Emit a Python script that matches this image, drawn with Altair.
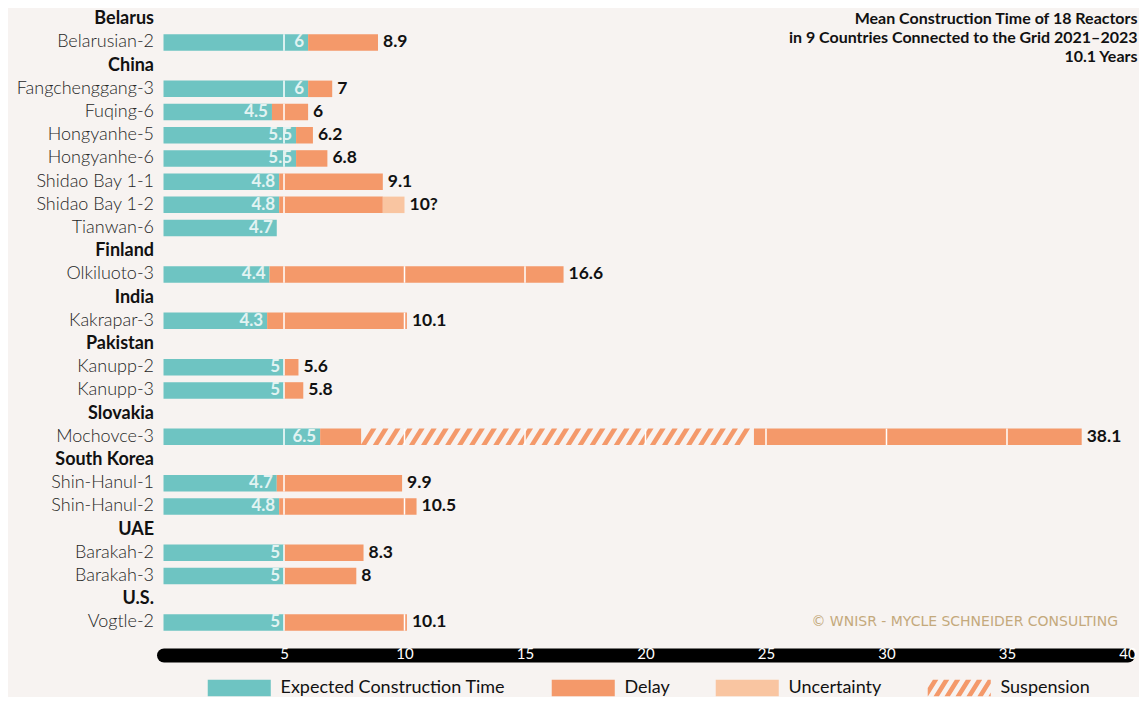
import altair as alt
import pandas as pd
import numpy as np

FONT = "Lato"
BG = "#f7f3f1"
TEAL = "#6ec4c2"
ORANGE = "#f4996a"
PEACH = "#f9c5a1"

# ---------------- data ----------------
countries = ["Belarus", "China", "Finland", "India", "Pakistan", "Slovakia",
             "South Korea", "UAE", "U.S."]
reactors = ["Belarusian-2", "Fangchenggang-3", "Fuqing-6", "Hongyanhe-5", "Hongyanhe-6",
            "Shidao Bay 1-1", "Shidao Bay 1-2", "Tianwan-6", "Olkiluoto-3", "Kakrapar-3",
            "Kanupp-2", "Kanupp-3", "Mochovce-3", "Shin-Hanul-1", "Shin-Hanul-2",
            "Barakah-2", "Barakah-3", "Vogtle-2"]
reactor_country = ["Belarus", "China", "China", "China", "China", "China", "China", "China",
                   "Finland", "India", "Pakistan", "Pakistan", "Slovakia", "South Korea",
                   "South Korea", "UAE", "UAE", "U.S."]
expected = [6, 6, 4.5, 5.5, 5.5, 4.8, 4.8, 4.7, 4.4, 4.3, 5, 5, 6.5, 4.7, 4.8, 5, 5, 5]
actual = [8.9, 7, 6, 6.2, 6.8, 9.1, 9.1, 4.7, 16.6, 10.1, 5.6, 5.8, 38.1, 9.9, 10.5, 8.3, 8, 10.1]
uncertain_to = [None, None, None, None, None, None, 10, None, None, None, None, None,
                None, None, None, None, None, None]
end_labels = ["8.9", "7", "6", "6.2", "6.8", "9.1", "10?", "", "16.6", "10.1", "5.6", "5.8",
              "38.1", "9.9", "10.5", "8.3", "8", "10.1"]
susp_reactor = "Mochovce-3"
susp_start, susp_end = 8.2, 24.5

parts = ["Expected Construction Time", "Delay", "Uncertainty", "Suspension"]
part_colors = [TEAL, ORANGE, PEACH, ORANGE]
x_ticks = [5, 10, 15, 20, 25, 30, 35, 40]

title_lines = ["Mean Construction Time of 18 Reactors",
               "in 9 Countries Connected to the Grid 2021\u20132023",
               "10.1 Years"]
copyright = "\u00a9 WNISR - MYCLE SCHNEIDER CONSULTING"

# ---------------- tables ----------------
y_order = []
for c in countries:
    y_order.append(c)
    y_order += [r for r, rc in zip(reactors, reactor_country) if rc == c]

seg_rows, tick_rows, in_rows, end_rows = [], [], [], []
for r, e, a, u, lab in zip(reactors, expected, actual, uncertain_to, end_labels):
    seg_rows.append((r, parts[0], 0, e))
    if a > e:
        if r == susp_reactor:
            seg_rows.append((r, parts[1], e, susp_start))
            seg_rows.append((r, parts[1], susp_end, a))
        else:
            seg_rows.append((r, parts[1], e, a))
    bar_end = a
    if u is not None:
        seg_rows.append((r, parts[2], a, u))
        bar_end = u
    for v in x_ticks:
        if v < bar_end - 1e-9:
            tick_rows.append((r, v))
    in_rows.append((r, e, e))
    end_rows.append((r, bar_end, lab))

df_seg = pd.DataFrame(seg_rows, columns=["row", "part", "start", "end"])
df_ticks = pd.DataFrame(tick_rows, columns=["row", "v"])
df_in = pd.DataFrame(in_rows, columns=["row", "x", "val"])
df_end = pd.DataFrame(end_rows, columns=["row", "x", "lab"])
# hatch stripes (decorative pattern across the suspension span)
stripe_pos = np.arange(susp_start + 0.31, susp_end - 0.3, 0.5)
df_hatch = pd.DataFrame({"row": susp_reactor, "x": stripe_pos})
df_copy = pd.DataFrame({"row": ["Vogtle-2"], "t": [copyright]})

# ---------------- glyph paths ----------------
STRIPE = "M-0.95,1L-0.3,1L0.95,-1L0.3,-1Z"
HALF_W = 3.82
RECT = f"M{-HALF_W},-1H{HALF_W}V1H{-HALF_W}Z"


def clip(poly, xmin, xmax):
    def clip_edge(pts, inside, inter):
        out = []
        for i in range(len(pts)):
            cur, prev = pts[i], pts[i - 1]
            if inside(cur):
                if not inside(prev):
                    out.append(inter(prev, cur))
                out.append(cur)
            elif inside(prev):
                out.append(inter(prev, cur))
        return out

    def ix(xc):
        def f(p, q):
            t = (xc - p[0]) / (q[0] - p[0])
            return (xc, p[1] + t * (q[1] - p[1]))
        return f
    poly = clip_edge(poly, lambda p: p[0] >= xmin, ix(xmin))
    if poly:
        poly = clip_edge(poly, lambda p: p[0] <= xmax, ix(xmax))
    return poly


def hatch_path():
    cmds = []
    c = -HALF_W - 1.0
    while c < HALF_W + 1.0:
        poly = [(c - 0.95, 1), (c - 0.3, 1), (c + 0.95, -1), (c + 0.3, -1)]
        poly = clip(poly, -HALF_W, HALF_W)
        if len(poly) >= 3:
            cmds.append("M" + "L".join(f"{x:.3f},{y:.3f}" for x, y in poly) + "Z")
        c += 1.33
    return "".join(cmds)


HATCH = hatch_path()

# ---------------- encodings ----------------
n = len(y_order)
BAND = 16.5
STEP = 23.2
PAD_IN = 1 - BAND / STEP
H = n * STEP - PAD_IN * STEP
W = 964
AX_OFF = 24.3

country_test = "indexof([" + ",".join(f"'{c}'" for c in countries) + "], datum.value) >= 0"

y_enc = alt.Y(
    "row:N",
    scale=alt.Scale(domain=y_order, paddingInner=PAD_IN, paddingOuter=0),
    axis=alt.Axis(
        ticks=False, domain=False, labelPadding=10, labelLimit=400,
        labelFont=FONT, labelFontSize=18,
        labelFontWeight={"condition": {"test": country_test, "value": "bold"}, "value": 300},
        labelColor={"condition": {"test": country_test, "value": "#111111"}, "value": "#262626"},
    ),
    title=None,
)

x_scale = alt.Scale(domain=[0, 40], nice=False, zero=True)
# black rounded bar (axis domain) and the white labels on top of it
x_axis_bar = alt.Axis(
    orient="bottom", values=x_ticks, ticks=False, grid=False, labels=False, domain=True,
    domainColor="black", domainWidth=14, domainCap="round",
    offset=AX_OFF, title=None, zindex=0,
)
x_axis_lab = alt.Axis(
    orient="bottom", values=x_ticks, ticks=False, grid=False, domain=False,
    labelColor="white", labelFont=FONT, labelFontSize=15,
    labelBaseline="middle", labelPadding=-1, labelFlush=False,
    offset=AX_OFF, title=None, zindex=1,
)


def X(field, axis=None):
    return alt.X(f"{field}:Q", scale=x_scale, axis=axis, title=None)


legend = alt.Legend(
    title=None, orient="none", legendX=43.5, legendY=668, direction="horizontal",
    symbolSize=BAND * BAND, symbolStrokeWidth=0, symbolOffset=31.5 - BAND / 2,
    labelOffset=72 - BAND - (31.5 - BAND / 2), labelFont=FONT, labelFontSize=18,
    labelColor="#111111", columnPadding=45, padding=0, labelLimit=400,
    symbolType=alt.ExprRef(expr=f"datum.value === 'Suspension' ? '{HATCH}' : '{RECT}'"),
)

bars = alt.Chart(df_seg).mark_bar().encode(
    x=X("start", x_axis_bar), x2="end:Q", y=y_enc,
    color=alt.Color("part:N", scale=alt.Scale(domain=parts, range=part_colors), legend=legend),
)

hatch = alt.Chart(df_hatch).mark_point(
    shape=STRIPE, size=BAND * BAND, filled=True, opacity=1, color=ORANGE, strokeWidth=0
).encode(x=X("x"), y=y_enc)

ticks = alt.Chart(df_ticks).mark_tick(
    color="white", thickness=1.5, size=BAND, opacity=1
).encode(x=X("v", x_axis_lab), y=y_enc)

inner = alt.Chart(df_in).mark_text(
    align="right", dx=-4, font=FONT, fontSize=17, fontWeight="bold", color="#e2f3f2"
).encode(x=X("x"), y=y_enc, text=alt.Text("val:Q", format=".2~f"))

ends = alt.Chart(df_end).mark_text(
    align="left", dx=5, font=FONT, fontSize=17.5, fontWeight="bold", color="#111111"
).encode(x=X("x"), y=y_enc, text="lab:N")

copy_txt = alt.Chart(df_copy).mark_text(
    align="right", font="DejaVu Sans", fontSize=14, color="#c4a97c"
).encode(x=alt.value(954.5), y=y_enc, text="t:N")

chart = alt.layer(bars, hatch, ticks, inner, ends, copy_txt).resolve_axis(
    x="independent"
).properties(
    width=W, height=H,
    title=alt.Title(text=title_lines, anchor="end", orient="top", frame="group",
                    offset=-55.5, dx=10, font=FONT, fontSize=16, fontWeight="bold",
                    color="#111111", lineHeight=19),
    autosize=alt.AutoSizeParams(type="none"),
    padding={"left": 155.5, "top": 3, "right": 11, "bottom": 66},
).configure(background=BG, font=FONT).configure_view(stroke=None)

chart.save("out.html", embed_options={"renderer": "svg", "actions": False})
